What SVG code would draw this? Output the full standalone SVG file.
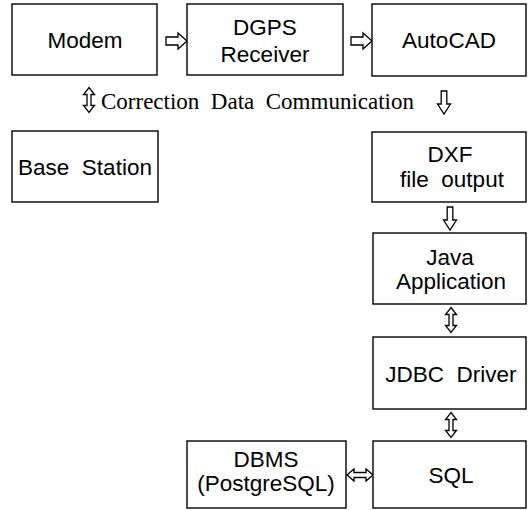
<svg xmlns="http://www.w3.org/2000/svg" width="529" height="510" viewBox="0 0 529 510">
<style>
.box{fill:#fff;stroke:#000;stroke-width:1.4}
.t{font-family:"Liberation Sans",Arial,sans-serif;font-size:22.5px;fill:#000;text-anchor:middle;white-space:pre}
.s{font-family:"Liberation Serif","Times New Roman",serif;font-size:23px;fill:#000;white-space:pre}
.ar{fill:#fff;stroke:#000;stroke-width:1.3;stroke-linejoin:miter}
</style>
<defs>
<path id="ra" class="ar" d="M0,-4 H12 V-8 L21,0 L12,8 V4 H0 Z"/>
<path id="da" class="ar" d="M-2.8,0 V13 H-6.5 L0,23 L6.5,13 H2.8 V0 Z"/>
<path id="vd" class="ar" d="M0,-12.5 L5.5,-5.5 H2 V5.5 H5.5 L0,12.5 L-5.5,5.5 H-2 V-5.5 H-5.5 Z"/>
<path id="hd" class="ar" d="M-13,0 L-6,-6 V-2.5 H6 V-6 L13,0 L6,6 V2.5 H-6 V6 Z"/>
</defs>
<rect width="529" height="510" fill="#fff"/>
<g id="connectors">
<use href="#ra" x="166" y="41"/>
<use href="#ra" x="351" y="41"/>
<use href="#vd" x="89" y="100"/>
<use href="#da" x="444" y="91"/>
<use href="#da" x="450" y="207"/>
<use href="#vd" x="451" y="320"/>
<use href="#vd" x="451" y="425"/>
<use href="#hd" x="360" y="475"/>
</g>
<g id="caption">
<text class="s" x="101" y="109">Correction  Data  Communication</text>
</g>
<g id="modem">
<rect class="box" x="12" y="4" width="145" height="71"/>
<text class="t" x="85" y="48">Modem</text>
</g>
<g id="dgps">
<rect class="box" x="187" y="4" width="156" height="71"/>
<text class="t" x="265" y="35">DGPS</text>
<text class="t" x="265" y="62">Receiver</text>
</g>
<g id="autocad">
<rect class="box" x="372" y="4" width="154" height="72"/>
<text class="t" x="449" y="48">AutoCAD</text>
</g>
<g id="base-station">
<rect class="box" x="12" y="131" width="146" height="71"/>
<text class="t" x="85" y="175">Base  Station</text>
</g>
<g id="dxf">
<rect class="box" x="372" y="132" width="154" height="70"/>
<text class="t" x="450" y="162">DXF</text>
<text class="t" x="452" y="187">file  output</text>
</g>
<g id="java">
<rect class="box" x="373" y="233" width="153" height="71"/>
<text class="t" x="450" y="265">Java</text>
<text class="t" x="451" y="289">Application</text>
</g>
<g id="jdbc">
<rect class="box" x="373" y="337" width="153" height="72"/>
<text class="t" x="451" y="382">JDBC  Driver</text>
</g>
<g id="sql">
<rect class="box" x="373" y="441" width="153" height="67"/>
<text class="t" x="451" y="483">SQL</text>
</g>
<g id="dbms">
<rect class="box" x="187" y="441" width="159" height="67"/>
<text class="t" x="266" y="467">DBMS</text>
<text class="t" x="266" y="491">(PostgreSQL)</text>
</g>
</svg>
